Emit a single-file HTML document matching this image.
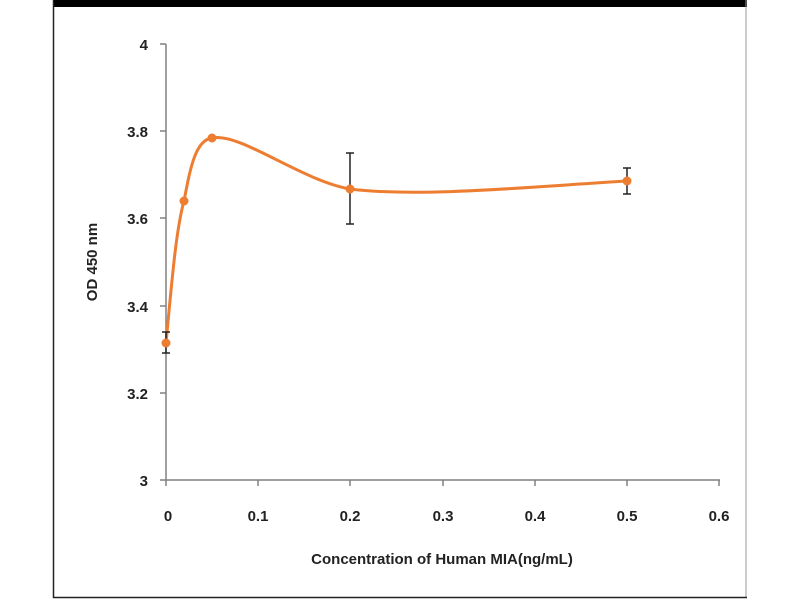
<!DOCTYPE html>
<html><head><style>body{margin:0;background:#fff}</style></head><body>
<svg width="800" height="600" xmlns="http://www.w3.org/2000/svg" font-family="Liberation Sans, sans-serif">
<rect width="800" height="600" fill="#fff"/>
<rect x="53" y="0" width="694" height="7" fill="#000"/>
<line x1="53.5" y1="0" x2="53.5" y2="598" stroke="#222" stroke-width="1.5"/>
<line x1="746" y1="0" x2="746" y2="598" stroke="#999" stroke-width="1"/>
<line x1="53" y1="597.5" x2="747" y2="597.5" stroke="#222" stroke-width="1.5"/>
<g stroke="#808080" stroke-width="1.5" fill="none">
<line x1="166" y1="44" x2="166" y2="480"/>
<line x1="166" y1="480" x2="720" y2="480"/>
<line x1="160" y1="44" x2="166" y2="44"/><line x1="160" y1="131" x2="166" y2="131"/><line x1="160" y1="218" x2="166" y2="218"/><line x1="160" y1="306" x2="166" y2="306"/><line x1="160" y1="393" x2="166" y2="393"/><line x1="160" y1="480" x2="166" y2="480"/>
<line x1="166" y1="480" x2="166" y2="486"/><line x1="258" y1="480" x2="258" y2="486"/><line x1="350" y1="480" x2="350" y2="486"/><line x1="443" y1="480" x2="443" y2="486"/><line x1="535" y1="480" x2="535" y2="486"/><line x1="627" y1="480" x2="627" y2="486"/><line x1="719" y1="480" x2="719" y2="486"/>
</g>
<g font-size="15" font-weight="bold" fill="#222" text-anchor="end">
<text x="148" y="50">4</text><text x="148" y="137">3.8</text><text x="148" y="224">3.6</text><text x="148" y="312">3.4</text><text x="148" y="399">3.2</text><text x="148" y="486">3</text>
</g>
<g font-size="15" font-weight="bold" fill="#222" text-anchor="middle">
<text x="168" y="521">0</text><text x="258" y="521">0.1</text><text x="350" y="521">0.2</text><text x="443" y="521">0.3</text><text x="535" y="521">0.4</text><text x="627" y="521">0.5</text><text x="719" y="521">0.6</text>
</g>
<text x="442" y="564" font-size="15" font-weight="bold" fill="#222" text-anchor="middle">Concentration of Human MIA(ng/mL)</text>
<text transform="translate(97,262) rotate(-90)" font-size="15" font-weight="bold" fill="#222" text-anchor="middle">OD 450 nm</text>
<path d="M166,343 C172,280 176,230 184,201 C190,170 195,140 212,138 C240,132 300,180 350,189 C420,198 540,186 627,181" stroke="#ED7D31" stroke-width="3" fill="none"/>
<g stroke="#222" stroke-width="1.5">
<line x1="166" y1="332" x2="166" y2="353"/><line x1="162" y1="332" x2="170" y2="332"/><line x1="162" y1="353" x2="170" y2="353"/>
<line x1="350" y1="153" x2="350" y2="224"/><line x1="346" y1="153" x2="354" y2="153"/><line x1="346" y1="224" x2="354" y2="224"/>
<line x1="627" y1="168" x2="627" y2="194"/><line x1="623" y1="168" x2="631" y2="168"/><line x1="623" y1="194" x2="631" y2="194"/>
</g>
<g fill="#ED7D31">
<circle cx="166" cy="343" r="4.5"/><circle cx="184" cy="201" r="4.5"/><circle cx="212" cy="138" r="4.5"/><circle cx="350" cy="189" r="4.5"/><circle cx="627" cy="181" r="4.5"/>
</g>
</svg>
</body></html>
